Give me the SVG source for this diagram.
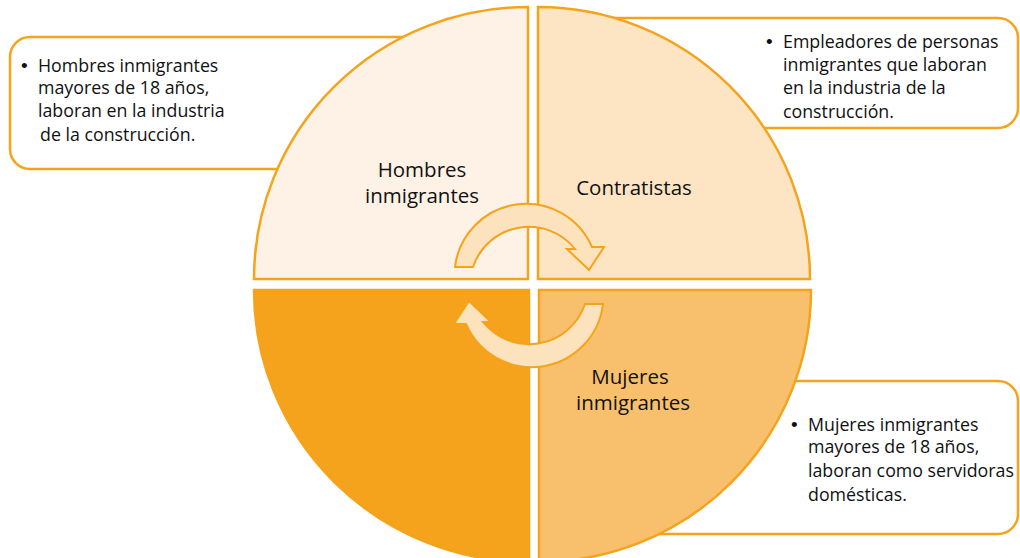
<svg xmlns="http://www.w3.org/2000/svg" width="1020" height="558" viewBox="0 0 1020 558">
<style>
.box{fill:#FFFFFF;stroke:#F5A31B;stroke-width:2.5}
.q{stroke:#F5A31B;stroke-width:2.5}
.arrow{fill:#FCE3BE;stroke:#F5A31B;stroke-width:2;stroke-linejoin:miter}
.lbl{font-family:"Open Sans","Liberation Sans",sans-serif;font-size:20.5px;fill:#111111;text-anchor:middle}
.bul{font-family:"Open Sans","Liberation Sans",sans-serif;font-size:17.8px;fill:#111111}
.dot{font-family:"Liberation Sans",sans-serif;font-size:19px;fill:#111111}
</style>
<rect width="1020" height="558" fill="#FFFFFF"/>
<g id="callout-hombres">
  <rect class="box" x="10" y="37" width="420" height="132" rx="20"/>
  <text class="dot" x="21" y="72">•</text>
  <text class="bul" x="38" y="72">Hombres inmigrantes</text>
  <text class="bul" x="38" y="94">mayores de 18 años,</text>
  <text class="bul" x="38" y="117">laboran en la industria</text>
  <text class="bul" x="40" y="141">de la construcción.</text>
</g>
<g id="callout-contratistas">
  <rect class="box" x="570" y="18" width="448" height="110" rx="20"/>
  <text class="dot" x="766" y="48">•</text>
  <text class="bul" x="783" y="48">Empleadores de personas</text>
  <text class="bul" x="783" y="71">inmigrantes que laboran</text>
  <text class="bul" x="783" y="94">en la industria de la</text>
  <text class="bul" x="783" y="118">construcción.</text>
</g>
<g id="callout-mujeres">
  <rect class="box" x="600" y="381" width="418" height="153" rx="20"/>
  <text class="dot" x="791" y="431">•</text>
  <text class="bul" x="808" y="431">Mujeres inmigrantes</text>
  <text class="bul" x="808" y="453">mayores de 18 años,</text>
  <text class="bul" x="808" y="477">laboran como servidoras</text>
  <text class="bul" x="808" y="501">domésticas.</text>
</g>
<g id="node-hombres">
  <path class="q" fill="#FDF2E5" d="M528 279 L254 279 A274 272 0 0 1 528 7 Z"/>
  <text class="lbl" x="422" y="177">Hombres</text>
  <text class="lbl" x="422" y="203">inmigrantes</text>
</g>
<g id="node-contratistas">
  <path class="q" fill="#FDE5C3" d="M538 279 L538 7 A272 272 0 0 1 810 279 Z"/>
  <text class="lbl" x="634" y="195">Contratistas</text>
</g>
<g id="node-vacio">
  <path class="q" fill="#F5A21C" d="M529 290 L529 562 A275 272 0 0 1 254 290 Z"/>
</g>
<g id="node-mujeres">
  <path class="q" fill="#F8C06C" d="M539 290 L811 290 A272 272 0 0 1 539 562 Z"/>
  <text class="lbl" x="630" y="384">Mujeres</text>
  <text class="lbl" x="633" y="410">inmigrantes</text>
</g>
<g id="connectors">
  <path id="arrow-top" class="arrow" d="M455 267 A71.7 71.7 0 0 1 592 247 L604 247 L589 270 L567 249 L575 249 A59 59 0 0 0 473 267 Z"/>
  <path id="arrow-bottom" class="arrow" transform="rotate(180 529 285.5)" d="M455 267 A71.7 71.7 0 0 1 592 247 L604 247 L589 270 L567 249 L575 249 A59 59 0 0 0 473 267 Z"/>
</g>
</svg>
